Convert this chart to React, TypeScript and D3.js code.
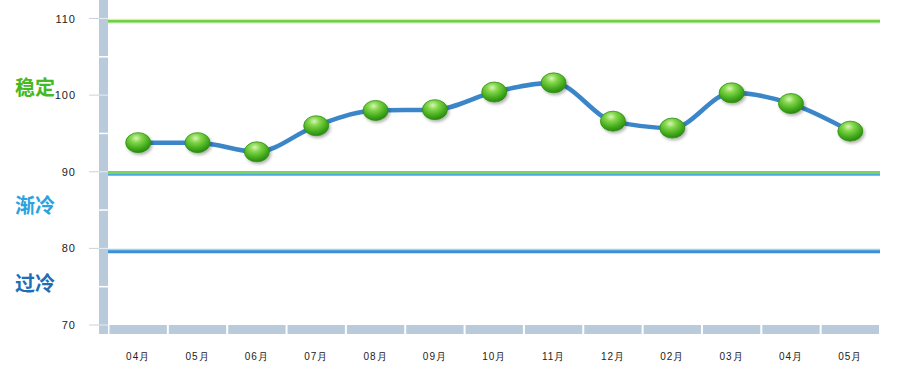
import React from "react";
import * as d3 from "d3";

const categories = ["04月", "05月", "06月", "07月", "08月", "09月", "10月", "11月", "12月", "02月", "03月", "04月", "05月"];
const values = [93.8, 93.8, 92.6, 96.0, 98.0, 98.1, 100.4, 101.6, 96.6, 95.7, 100.3, 98.9, 95.3];
const yTicks = [70, 80, 90, 100, 110];
const minorTicks = [75, 85, 95, 105];
const zones = [
  { label: "稳定", value: 100.9, color: "#45b91e" },
  { label: "渐冷", value: 85.5, color: "#2aa3df" },
  { label: "过冷", value: 75.3, color: "#1f6db6" },
];

const W = 903;
const H = 377;

export default function App() {
  const y = d3.scaleLinear().domain([70, 110]).range([325, 18.5]);
  const x = d3.scaleBand<string>().domain(categories.map((c, i) => i + "")).range([108.5, 880]).padding(0);
  const cx = (i: number) => (x(i + "") as number) + x.bandwidth() / 2;
  const line = d3
    .line<number>()
    .x((_, i) => cx(i))
    .y((d) => y(d))
    .curve(d3.curveMonotoneX);

  return (
    <svg width={W} height={H} style={{ position: "absolute", left: 0, top: 0, background: "#fff" }}>
      <defs>
        <radialGradient id="ball" cx="42%" cy="28%" r="78%">
          <stop offset="0%" stopColor="#d6f5b8" />
          <stop offset="28%" stopColor="#84d64a" />
          <stop offset="65%" stopColor="#45ad1e" />
          <stop offset="100%" stopColor="#217d0c" />
        </radialGradient>
        <filter id="shadow" x="-50%" y="-50%" width="200%" height="200%">
          <feDropShadow dx="1.5" dy="2" stdDeviation="1.5" floodColor="#000" floodOpacity="0.3" />
        </filter>
      </defs>

      {/* left axis bar */}
      <rect x={99} y={0} width={9} height={334} fill="#b9cadb" />
      {minorTicks.map((t) => (
        <line key={"m" + t} x1={99} x2={108} y1={y(t)} y2={y(t)} stroke="#fff" strokeWidth={1.5} />
      ))}
      {yTicks.map((t) => (
        <g key={"t" + t}>
          <line x1={89} x2={99} y1={y(t)} y2={y(t)} stroke="#c9d3dd" strokeWidth={1} />
          <line x1={99} x2={108} y1={y(t)} y2={y(t)} stroke="#e6edf4" strokeWidth={1} />
          <text
            x={76}
            y={y(t) + 4}
            textAnchor="end"
            fontFamily="'Liberation Sans', Arial, sans-serif"
            fontSize={11}
            letterSpacing={1}
            fill="#222"
          >
            {t}
          </text>
        </g>
      ))}

      {/* bottom segmented bar */}
      {categories.map((c, i) => (
        <rect
          key={"b" + i}
          x={(x(i + "") as number) + 1}
          y={325}
          width={x.bandwidth() - 2}
          height={9}
          fill="#b9cadb"
        />
      ))}
      {categories.map((c, i) => (
        <text
          key={"c" + i}
          x={cx(i)}
          y={360}
          textAnchor="middle"
          fontFamily="'Liberation Sans', Arial, sans-serif"
          fontSize={10}
          letterSpacing={1}
          fill="#222"
        >
          {c}
        </text>
      ))}

      {/* threshold lines */}
      <line x1={108} x2={880} y1={y(109.85)} y2={y(109.85)} stroke="#f3e4b4" strokeWidth={2} />
      <line x1={108} x2={880} y1={y(109.6)} y2={y(109.6)} stroke="#6fcf4a" strokeWidth={3} />
      <line x1={108} x2={880} y1={y(109.42)} y2={y(109.42)} stroke="#c8f2b8" strokeWidth={1} />

      <line x1={108} x2={880} y1={y(89.9)} y2={y(89.9)} stroke="#7bd35c" strokeWidth={3} />
      <line x1={108} x2={880} y1={y(89.6)} y2={y(89.6)} stroke="#4aa8e0" strokeWidth={1.8} />

      <line x1={108} x2={880} y1={y(79.82)} y2={y(79.82)} stroke="#9ed2f0" strokeWidth={2} />
      <line x1={108} x2={880} y1={y(79.55)} y2={y(79.55)} stroke="#3b8fd2" strokeWidth={3} />

      {/* zone labels */}
      {zones.map((z) => (
        <text
          key={z.label}
          x={15}
          y={y(z.value) + 7}
          fontFamily="'Noto Sans CJK SC', sans-serif"
          fontWeight="bold"
          fontSize={20}
          fill={z.color}
        >
          {z.label}
        </text>
      ))}

      {/* series line */}
      <path d={line(values) || ""} fill="none" stroke="#3a86c8" strokeWidth={4.5} strokeLinecap="round" />

      {/* markers */}
      {values.map((v, i) => (
        <ellipse
          key={"p" + i}
          cx={cx(i)}
          cy={y(v)}
          rx={12.5}
          ry={10}
          fill="url(#ball)"
          stroke="#2f8f12"
          strokeWidth={0.8}
          filter="url(#shadow)"
        />
      ))}
    </svg>
  );
}
